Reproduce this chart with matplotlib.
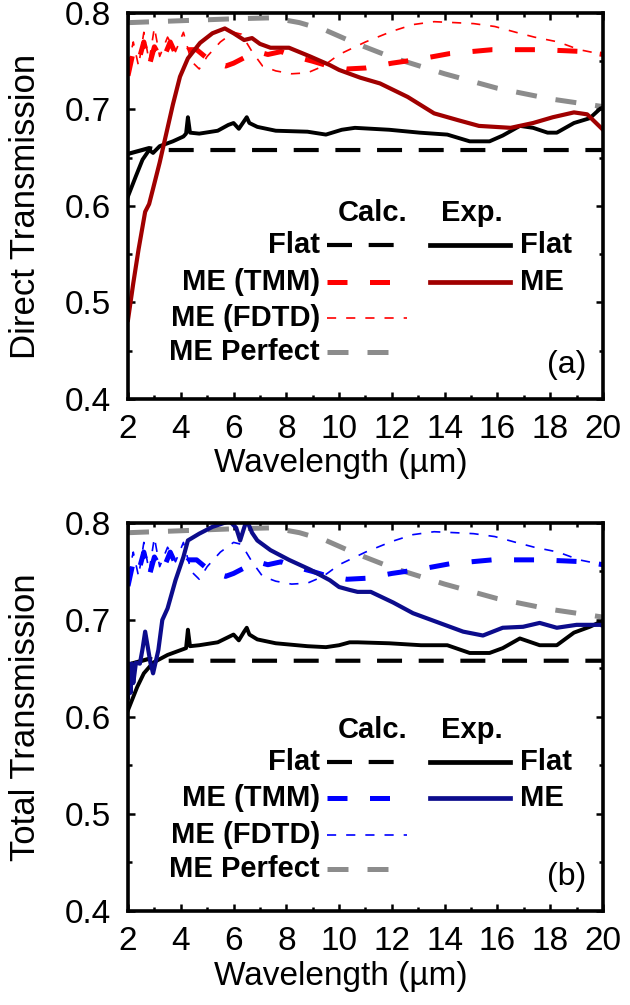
import numpy as np
import matplotlib.pyplot as plt
from matplotlib.ticker import MultipleLocator

plt.rcParams['font.family'] = ['Liberation Sans', 'DejaVu Sans']

# ---- calculated curves (same for both panels) ----
wl_flat_calc = [2.0, 2.8, 3.2, 20.0]
t_flat_calc = [0.654, 0.660, 0.658, 0.658]

wl_perfect = [2, 4, 6, 7.5, 8.5, 9.5, 10.5, 12, 14, 16, 18, 20]
t_perfect = [0.790, 0.792, 0.794, 0.795, 0.790, 0.782, 0.770, 0.754, 0.737,
             0.722, 0.711, 0.703]

wl_tmm = [2.0, 2.2, 2.4, 2.6, 2.8, 3.0, 3.3, 3.6, 3.9, 4.3, 4.6, 5.0, 5.3,
          5.7, 6.0, 6.5, 6.9, 7.3, 7.8, 8.3, 9.0, 9.6, 10.3, 11.0, 12.0,
          13.0, 14.2, 15.8, 17.5, 18.5, 19.3, 20.0]
t_tmm = [0.735, 0.760, 0.750, 0.770, 0.745, 0.765, 0.750, 0.770, 0.752,
         0.762, 0.762, 0.753, 0.748, 0.745, 0.748, 0.755, 0.760, 0.757,
         0.760, 0.755, 0.750, 0.745, 0.742, 0.743, 0.748, 0.752, 0.758,
         0.762, 0.762, 0.761, 0.760, 0.757]

wl_fdtd = [2.0, 2.2, 2.4, 2.6, 2.8, 3.0, 3.2, 3.5, 3.8, 4.1, 4.4, 4.7, 5.0,
           5.5, 6.0, 6.3, 6.7, 7.1, 7.6, 8.2, 8.8, 9.4, 10.0, 11.0, 12.0,
           12.8, 13.6, 14.4, 15.1, 15.9, 16.7, 17.4, 18.3, 19.1, 20.0]
t_fdtd = [0.745, 0.770, 0.745, 0.780, 0.750, 0.785, 0.755, 0.775, 0.760,
          0.780, 0.750, 0.742, 0.755, 0.770, 0.780, 0.778, 0.760, 0.745,
          0.740, 0.737, 0.738, 0.745, 0.757, 0.770, 0.781, 0.788, 0.791,
          0.790, 0.789, 0.786, 0.780, 0.775, 0.770, 0.762, 0.757]

# ---- experimental curves, panel (a) direct ----
wl_flat_a = [2.0, 2.3, 2.55, 2.8, 2.95, 3.2, 3.7, 4.1, 4.2, 4.27, 4.35, 4.7,
             5.4, 5.8, 6.0, 6.2, 6.4, 6.5, 6.6, 6.9, 7.6, 8.8, 9.5, 10.1,
             10.6, 11.9, 13.05, 14.1, 14.95, 15.7, 16.2, 16.85, 17.35, 17.9,
             18.25, 18.9, 19.5, 19.9, 20.0]
t_flat_a = [0.610, 0.631, 0.648, 0.658, 0.655, 0.662, 0.667, 0.672, 0.675,
            0.692, 0.676, 0.675, 0.678, 0.684, 0.686, 0.680, 0.688, 0.692,
            0.686, 0.682, 0.678, 0.677, 0.674, 0.679, 0.681, 0.679, 0.676,
            0.674, 0.667, 0.667, 0.673, 0.683, 0.681, 0.676, 0.676, 0.686,
            0.691, 0.701, 0.702]

wl_me_a = [2.0, 2.2, 2.4, 2.65, 2.8, 2.95, 3.2, 3.45, 3.7, 3.97, 4.27, 4.73,
           5.2, 5.67, 6.0, 6.4, 6.7, 7.0, 7.4, 8.1, 8.9, 9.65, 10.0, 10.5,
           10.8, 11.55, 12.6, 13.6, 14.5, 15.3, 16.5, 17.35, 18.1, 18.9,
           19.4, 20.0]
t_me_a = [0.482, 0.520, 0.555, 0.594, 0.602, 0.618, 0.645, 0.675, 0.705,
          0.734, 0.753, 0.769, 0.779, 0.784, 0.779, 0.772, 0.774, 0.768,
          0.764, 0.764, 0.755, 0.746, 0.741, 0.736, 0.733, 0.727, 0.713,
          0.696, 0.689, 0.683, 0.681, 0.686, 0.692, 0.697, 0.695, 0.679]

# ---- experimental curves, panel (b) total ----
wl_flat_b = [2.0, 2.35, 2.6, 2.95, 3.5, 4.0, 4.2, 4.27, 4.35, 4.7, 5.4, 6.0,
             6.2, 6.4, 6.5, 6.6, 6.9, 7.6, 8.8, 9.5, 10.0, 10.4, 10.7, 11.9,
             13.1, 14.1, 14.95, 15.7, 16.2, 16.85, 17.6, 18.25, 18.9, 19.5,
             19.9, 20.0]
t_flat_b = [0.607, 0.631, 0.645, 0.656, 0.664, 0.669, 0.671, 0.690, 0.673,
            0.674, 0.677, 0.685, 0.679, 0.688, 0.692, 0.685, 0.680, 0.676,
            0.673, 0.672, 0.674, 0.677, 0.677, 0.676, 0.674, 0.674, 0.666,
            0.666, 0.671, 0.681, 0.674, 0.674, 0.687, 0.693, 0.698, 0.699]

wl_me_b = [2.0, 2.05, 2.1, 2.15, 2.2, 2.3, 2.45, 2.55, 2.65, 2.75, 2.85,
           2.95, 3.15, 3.3, 3.5, 3.8, 4.1, 4.27, 4.7, 5.2, 5.85, 6.1, 6.25,
           6.4, 6.5, 6.7, 6.9, 7.4, 8.1, 8.9, 9.65, 10.0, 10.4, 10.7, 11.2,
           12.05, 12.8, 13.8, 14.7, 15.45, 16.2, 16.97, 17.6, 18.25, 19.0,
           19.9, 20.0]
t_me_b = [0.620, 0.655, 0.625, 0.655, 0.635, 0.656, 0.655, 0.670, 0.688,
          0.672, 0.656, 0.645, 0.669, 0.700, 0.712, 0.741, 0.765, 0.782,
          0.789, 0.796, 0.802, 0.795, 0.782, 0.795, 0.803, 0.790, 0.782,
          0.772, 0.762, 0.752, 0.741, 0.734, 0.731, 0.729, 0.729, 0.718,
          0.707, 0.697, 0.688, 0.684, 0.692, 0.693, 0.697, 0.692, 0.695,
          0.695, 0.694]

calc_labels = ['Flat', 'ME (TMM)', 'ME (FDTD)', 'ME Perfect']
exp_labels = ['Flat', 'ME']


def draw_panel(ax, flat_exp, me_exp, calc_col, me_col, ylabel, tag, rows_y, head_y):
    styles = [
        dict(color='black', lw=3.0, dashes=(6, 4)),
        dict(color=calc_col, lw=3.6, dashes=(4, 4.5)),
        dict(color=calc_col, lw=1.2, dashes=(5.5, 6)),
        dict(color='#8c8c8c', lw=3.6, dashes=(4.2, 3.8)),
    ]
    ax.plot(wl_perfect, t_perfect, **styles[3])
    ax.plot(wl_fdtd, t_fdtd, **styles[2])
    ax.plot(wl_tmm, t_tmm, **styles[1])
    ax.plot(wl_flat_calc, t_flat_calc, **styles[0])
    ax.plot(flat_exp[0], flat_exp[1], color='black', lw=2.8)
    ax.plot(me_exp[0], me_exp[1], color=me_col, lw=3.0)

    ax.set_xlim(2, 20)
    ax.set_ylim(0.4, 0.8)
    ax.xaxis.set_major_locator(MultipleLocator(2))
    ax.xaxis.set_minor_locator(MultipleLocator(1))
    ax.yaxis.set_major_locator(MultipleLocator(0.1))
    ax.yaxis.set_minor_locator(MultipleLocator(0.05))
    ax.yaxis.set_major_formatter(plt.FuncFormatter(lambda v, p: f'{v:.1f}'))
    ax.tick_params(which='both', direction='in', top=True, right=True,
                   width=1.8, labelsize=24)
    ax.tick_params(which='major', length=5)
    ax.tick_params(which='minor', length=3)
    ax.tick_params(axis='x', pad=11)
    ax.tick_params(axis='y', pad=12)
    for s in ax.spines.values():
        s.set_linewidth(2.6)

    ax.set_ylabel(ylabel, fontsize=25)
    ax.yaxis.set_label_coords(-0.181, 0.5)
    ax.set_xlabel('Wavelength (µm)', fontsize=24)
    ax.xaxis.set_label_coords(0.448, -0.128)

    # legend drawn as a table: Calc. | Exp.
    tr = ax.transAxes
    ax.text(0.514, head_y, 'Calc.', transform=tr, ha='center', va='center',
            fontsize=21, fontweight='bold')
    ax.text(0.724, head_y, 'Exp.', transform=tr, ha='center', va='center',
            fontsize=21, fontweight='bold')
    for i, lab in enumerate(calc_labels):
        ax.text(0.404, rows_y[i], lab, transform=tr, ha='right', va='center',
                fontsize=21, fontweight='bold')
        ax.plot([0.419, 0.587], [rows_y[i]] * 2, transform=tr, **styles[i])
    exp_cols = ['black', me_col]
    for i, lab in enumerate(exp_labels):
        ax.plot([0.636, 0.804], [rows_y[i]] * 2, transform=tr,
                color=exp_cols[i], lw=3.4)
        ax.text(0.825, rows_y[i], lab, transform=tr, ha='left', va='center',
                fontsize=21, fontweight='bold')
    ax.text(0.924, 0.088, tag, transform=tr, ha='center', va='center',
            fontsize=23)


fig = plt.figure(figsize=(6.3, 10.05), dpi=100)
ax1 = fig.add_axes([128 / 630, 1 - 399 / 1005, 475 / 630, 386 / 1005])
ax2 = fig.add_axes([128 / 630, 1 - 911 / 1005, 475 / 630, 388 / 1005])

draw_panel(ax1, (wl_flat_a, t_flat_a), (wl_me_a, t_me_a), '#ff0000', '#a00000',
           'Direct Transmission', '(a)', [0.399, 0.303, 0.210, 0.122], 0.482)
draw_panel(ax2, (wl_flat_b, t_flat_b), (wl_me_b, t_me_b), '#0000ff', '#0c0c8c',
           'Total Transmission', '(b)', [0.384, 0.291, 0.196, 0.108], 0.466)

fig.savefig('out.png', dpi=100)
